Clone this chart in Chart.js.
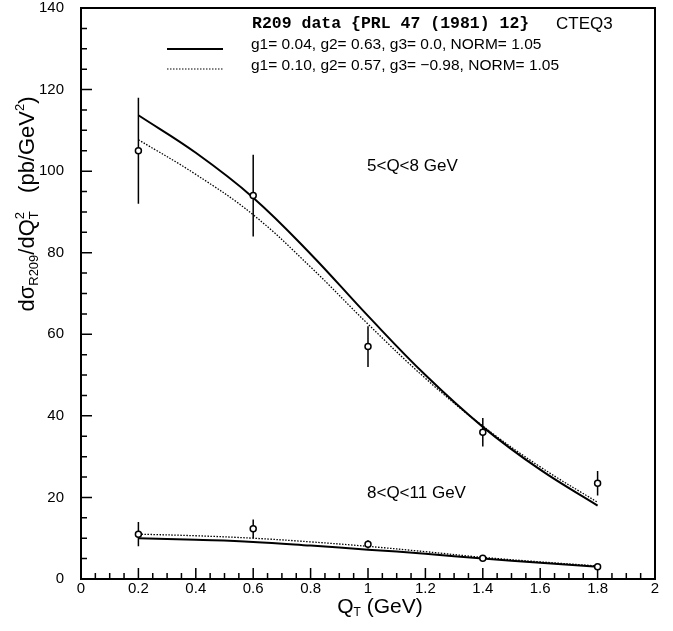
<!DOCTYPE html>
<html>
<head>
<meta charset="utf-8">
<script src="https://cdn.jsdelivr.net/npm/chart.js@4.4.0/dist/chart.umd.min.js"></script>
<style>
  body { margin: 0; background: #fff; }
  #wrap { width: 673px; height: 631px; }
</style>
</head>
<body>
<div id="wrap"><canvas id="c" width="673" height="631"></canvas></div>
<script>
// R209 data, QT bins (GeV)
var qt = [0.2, 0.6, 1.0, 1.4, 1.8];
// 5<Q<8 GeV
var dataLow = [105, 94, 57, 36, 23.5];
var errLow = [13, 10, 5, 3.5, 3];
// 8<Q<11 GeV
var dataHigh = [11, 12.3, 8.5, 5.1, 3];
var errHigh = [3, 2.3, 1, 0.4, 0.3];

// theory curves
var curveX = [0.2, 0.4, 0.6, 0.8, 1.0, 1.2, 1.4, 1.6, 1.8];
var fit1Low = [113.7, 104.5, 93.5, 79.7, 64.5, 50, 37.3, 26.8, 18];
var fit2Low = [107.7, 99.2, 89.3, 76.5, 62.5, 49.2, 37.5, 27.5, 18.8];
var fit1High = [10, 9.6, 9.1, 8.2, 7.2, 6.2, 5.0, 4.0, 3.0];
var fit2High = [11, 10.6, 10, 9.1, 8, 6.7, 5.3, 4.2, 3.2];

var xTicks = [0, 0.2, 0.4, 0.6, 0.8, 1, 1.2, 1.4, 1.6, 1.8, 2];
var yTicks = [0, 20, 40, 60, 80, 100, 120, 140];

function pts(xs, ys) {
  return xs.map(function(x, i) { return {x: x, y: ys[i]}; });
}

var font = '"Liberation Sans", Arial, sans-serif';

var framePlugin = {
  id: 'frame',
  afterDraw: function(chart) {
    var ctx = chart.ctx;
    var a = chart.chartArea;
    var xs = chart.scales.x, ys = chart.scales.y;
    ctx.save();
    ctx.strokeStyle = '#000';
    ctx.lineWidth = 2;
    ctx.strokeRect(a.left, a.top, a.right - a.left, a.bottom - a.top);

    // inward ticks
    ctx.lineWidth = 1.5;
    ctx.beginPath();
    for (var v = 0; v <= 140.001; v += 5) {
      var py = ys.getPixelForValue(v);
      var len = (v % 20 === 0) ? 11 : 6;
      ctx.moveTo(a.left, py); ctx.lineTo(a.left + len, py);
    }
    for (var k = 0; k <= 40; k++) {
      var px = xs.getPixelForValue(k * 0.05);
      var l = (k % 4 === 0) ? 11 : 6;
      ctx.moveTo(px, a.bottom); ctx.lineTo(px, a.bottom - l);
    }
    ctx.stroke();

    // error bars and markers
    function errs(vals, e) {
      ctx.lineWidth = 1.5;
      ctx.beginPath();
      qt.forEach(function(x, i) {
        var px = xs.getPixelForValue(x);
        ctx.moveTo(px, ys.getPixelForValue(vals[i] - e[i]));
        ctx.lineTo(px, ys.getPixelForValue(vals[i] + e[i]));
      });
      ctx.stroke();
      qt.forEach(function(x, i) {
        var px = xs.getPixelForValue(x), py = ys.getPixelForValue(vals[i]);
        ctx.beginPath();
        ctx.arc(px, py, 3, 0, Math.PI * 2);
        ctx.fillStyle = '#fff';
        ctx.fill();
        ctx.lineWidth = 1.5;
        ctx.stroke();
      });
    }
    errs(dataLow, errLow);
    errs(dataHigh, errHigh);

    // legend / annotations
    ctx.fillStyle = '#000';
    ctx.textBaseline = 'middle';
    ctx.textAlign = 'left';
    ctx.font = 'bold 16.5px "Liberation Mono", "DejaVu Sans Mono", monospace';
    ctx.fillText('R209 data {PRL 47 (1981) 12}', 252, 24);
    ctx.font = '17px ' + font;
    ctx.fillText('CTEQ3', 556, 24);
    ctx.font = '15.5px ' + font;
    ctx.fillText('g1= 0.04, g2= 0.63, g3= 0.0, NORM= 1.05', 251, 45);
    ctx.fillText('g1= 0.10, g2= 0.57, g3= \u22120.98, NORM= 1.05', 251, 66);
    ctx.lineWidth = 2;
    ctx.beginPath(); ctx.moveTo(167, 49); ctx.lineTo(223, 49); ctx.stroke();
    ctx.lineWidth = 1.2;
    ctx.setLineDash([1.5, 1.5]);
    ctx.beginPath(); ctx.moveTo(167, 69); ctx.lineTo(223, 69); ctx.stroke();
    ctx.setLineDash([]);
    ctx.font = '17px ' + font;
    ctx.fillText('5<Q<8 GeV', 367, 166);
    ctx.fillText('8<Q<11 GeV', 367, 493);

    // x title: Q_T (GeV)
    ctx.font = '21px ' + font;
    var wq = ctx.measureText('Q').width;
    var wg = ctx.measureText(' (GeV)').width;
    ctx.font = '12px ' + font;
    var wt = ctx.measureText('T').width;
    var xt = 380 - (wq + wt + wg) / 2;
    ctx.font = '21px ' + font;
    ctx.fillText('Q', xt, 607);
    ctx.font = '12px ' + font;
    ctx.fillText('T', xt + wq, 613);
    ctx.font = '21px ' + font;
    ctx.fillText(' (GeV)', xt + wq + wt, 607);

    // y title, rotated
    var parts = [
      ['d\u03c3', 22, 0], ['R209', 13, 6], ['/dQ', 22, 0], ['2', 13, -8, true],
      ['T', 13, 6], ['   (pb/GeV', 22, 0], ['2', 13, -8], [')', 22, 0]
    ];
    var total = 0;
    parts.forEach(function(p) {
      ctx.font = p[1] + 'px ' + font;
      if (!p[3]) total += ctx.measureText(p[0]).width;
    });
    ctx.translate(28, 204);
    ctx.rotate(-Math.PI / 2);
    var cx = -total / 2;
    parts.forEach(function(p) {
      ctx.font = p[1] + 'px ' + font;
      ctx.fillText(p[0], cx, p[2]);
      if (!p[3]) cx += ctx.measureText(p[0]).width;
    });
    ctx.restore();
  }
};

var chart = new Chart(document.getElementById('c'), {
  type: 'scatter',
  data: {
    datasets: [
      { data: pts(curveX, fit1Low), showLine: true, borderColor: '#000', borderWidth: 2, pointRadius: 0, tension: 0.4, fill: false },
      { data: pts(curveX, fit2Low), showLine: true, borderColor: '#000', borderWidth: 1.3, borderDash: [1.5, 1.5], pointRadius: 0, tension: 0.4, fill: false },
      { data: pts(curveX, fit1High), showLine: true, borderColor: '#000', borderWidth: 2, pointRadius: 0, tension: 0.4, fill: false },
      { data: pts(curveX, fit2High), showLine: true, borderColor: '#000', borderWidth: 1.3, borderDash: [1.5, 1.5], pointRadius: 0, tension: 0.4, fill: false }
    ]
  },
  options: {
    responsive: false,
    animation: false,
    layout: { padding: { left: 0, right: 18, top: 8, bottom: 0 } },
    plugins: { legend: { display: false }, tooltip: { enabled: false } },
    scales: {
      x: {
        type: 'linear', min: 0, max: 2,
        afterFit: function(s) { s.height = 52; s.paddingLeft = 0; s.paddingRight = 0; },
        afterBuildTicks: function(s) { s.ticks = xTicks.map(function(v) { return {value: v}; }); },
        grid: { display: false, drawTicks: false },
        border: { display: false },
        ticks: { color: '#000', padding: 1, maxRotation: 0, font: { family: font, size: 15 },
                 callback: function(v) { return String(v); } }
      },
      y: {
        type: 'linear', min: 0, max: 140,
        afterFit: function(s) { s.width = 81; s.paddingTop = 0; s.paddingBottom = 0; },
        afterBuildTicks: function(s) { s.ticks = yTicks.map(function(v) { return {value: v}; }); },
        grid: { display: false, drawTicks: false },
        border: { display: false },
        ticks: { color: '#000', padding: 17, font: { family: font, size: 15 } }
      }
    }
  },
  plugins: [framePlugin]
});
</script>
</body>
</html>
